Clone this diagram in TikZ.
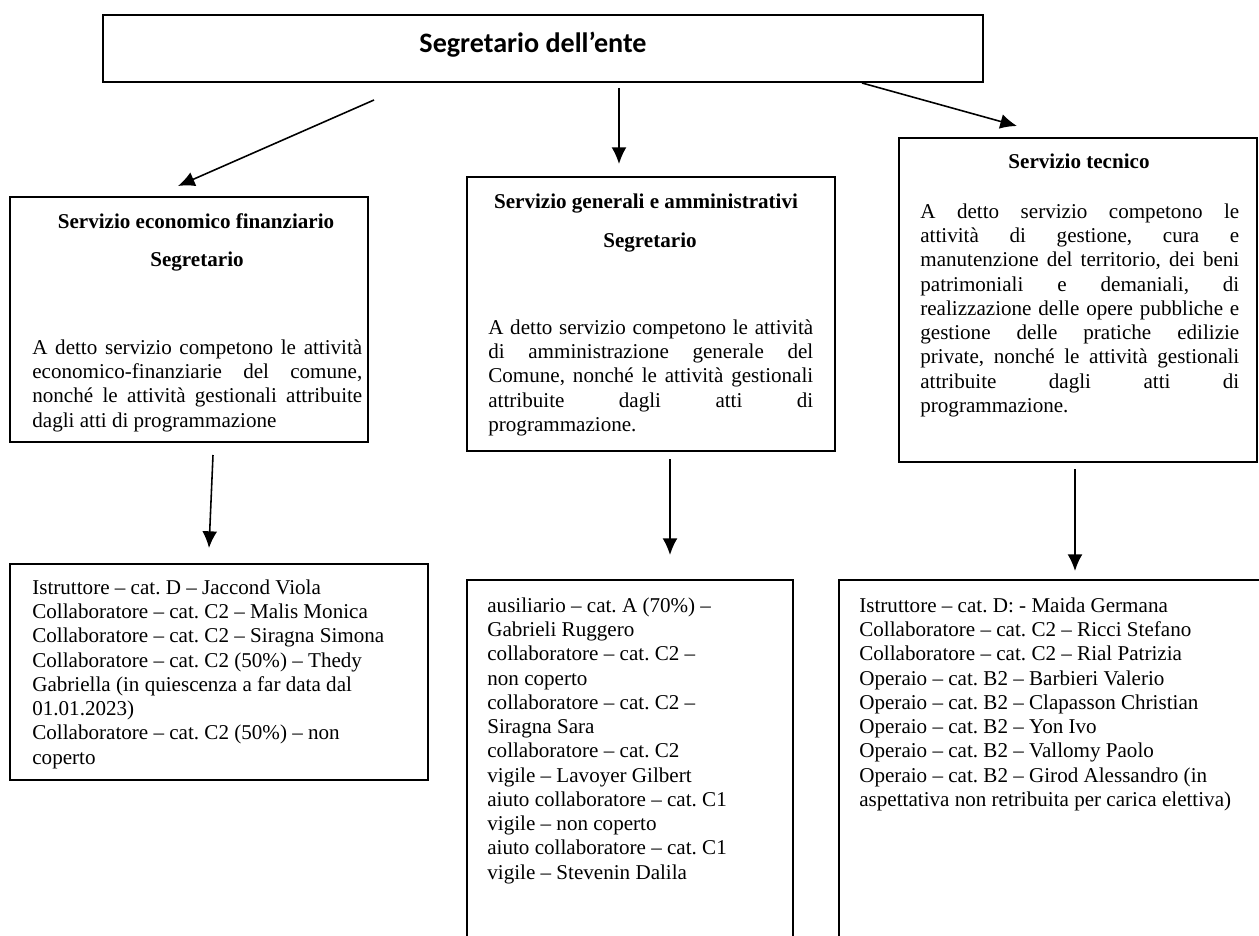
\documentclass[tikz,border=0pt]{standalone}
\usepackage{fontspec}
\setmainfont{Liberation Serif}
\newfontfamily\titlefont{Carlito}
\usetikzlibrary{arrows.meta,fit}
\frenchspacing

\begin{document}
\begin{tikzpicture}[x=0.02cm, y=-0.02cm, >={Latex[length=9.5pt,width=8.5pt]}, font=\fontsize{12}{13.8}\selectfont\frenchspacing]

% Styles for the boxes and their texts
\tikzstyle{box} = [draw, line width=1pt, rectangle, inner sep=0pt]
\tikzstyle{par} = [anchor=north west, inner sep=0pt, align=justify]
\tikzstyle{list} = [anchor=north west, inner sep=0pt, align=left]
\tikzstyle{head} = [anchor=base, inner sep=0pt, font=\fontsize{12}{13.8}\selectfont\bfseries]
\tikzstyle{link} = [->, line width=0.9pt]

\useasboundingbox (0,0) rectangle (1259,936);
\clip (0,0) rectangle (1259,936);

% Top box
\node[box, fit={(103,15) (983,82)}] (ente) {};
\node[anchor=base, inner sep=0pt, font=\titlefont\fontsize{16}{20}\selectfont\bfseries] (enteT) at (533,53) {Segretario dell’ente};

% Service boxes
\node[box, fit={(10,197) (368,442)}] (econ) {};
\node[head] (econH) at (196,229) {Servizio economico finanziario};
\node[head] (econS) at (197,267) {Segretario};
\node[par, text width=6.6cm] (econT) at (32,337) {\strut A detto servizio competono le attività\linebreak economico-finanziarie del comune,\linebreak nonché le attività gestionali attribuite\linebreak dagli atti di programmazione};

\node[box, fit={(467,177) (835,451)}] (gen) {};
\node[head] (genH) at (646,209) {Servizio generali e amministrativi};
\node[head] (genS) at (650,248) {Segretario};
\node[par, text width=6.5cm] (genT) at (488,317) {\strut A detto servizio competono le attività\linebreak di amministrazione generale del\linebreak Comune, nonché le attività gestionali\linebreak attribuite dagli atti di\linebreak programmazione.};

\node[box, fit={(899,138) (1257,462)}] (tec) {};
\node[head] (tecH) at (1079,169) {Servizio tecnico};
\node[par, text width=6.38cm] (tecT) at (920,201) {\strut A detto servizio competono le\linebreak attività di gestione, cura e\linebreak manutenzione del territorio, dei beni\linebreak patrimoniali e demaniali, di\linebreak realizzazione delle opere pubbliche e\linebreak gestione delle pratiche edilizie\linebreak private, nonché le attività gestionali\linebreak attribuite dagli atti di\linebreak programmazione.};

% Staff boxes
\node[box, fit={(10,564) (428,780)}] (econP) {};
\node[list] (econL) at (32,577) {\strut Istruttore – cat. D – Jaccond Viola\\
Collaboratore – cat. C2 – Malis Monica\\
Collaboratore – cat. C2 – Siragna Simona\\
Collaboratore – cat. C2 (50\%) – Thedy\\
Gabriella (in quiescenza a far data dal\\
01.01.2023)\\
Collaboratore – cat. C2 (50\%) – non\\
coperto};

\node[box, fit={(467,580) (793,950)}] (genP) {};
\node[list] (genL) at (487,595) {\strut ausiliario – cat. A (70\%) –\\
Gabrieli Ruggero\\
collaboratore – cat. C2 –\\
non coperto\\
collaboratore – cat. C2 –\\
Siragna Sara\\
collaboratore – cat. C2\\
vigile – Lavoyer Gilbert\\
aiuto collaboratore – cat. C1\\
vigile – non coperto\\
aiuto collaboratore – cat. C1\\
vigile – Stevenin Dalila};

\node[box, fit={(839,580) (1275,950)}] (tecP) {};
\node[list] (tecL) at (859,595) {\strut Istruttore – cat. D: - Maida Germana\\
Collaboratore – cat. C2 – Ricci Stefano\\
Collaboratore – cat. C2 – Rial Patrizia\\
Operaio – cat. B2 – Barbieri Valerio\\
Operaio – cat. B2 – Clapasson Christian\\
Operaio – cat. B2 – Yon Ivo\\
Operaio – cat. B2 – Vallomy Paolo\\
Operaio – cat. B2 – Girod Alessandro (in\\
aspettativa non retribuita per carica elettiva)};

% Arrows (free floating between the boxes)
\coordinate (a1s) at (374,100); \coordinate (a1e) at (178,186);
\coordinate (a2s) at (619,88);  \coordinate (a2e) at (619,164);
\coordinate (a3s) at (862,83);  \coordinate (a3e) at (1017,126);
\coordinate (a4s) at (213,455); \coordinate (a4e) at (209,548);
\coordinate (a5s) at (670,459); \coordinate (a5e) at (670,555);
\coordinate (a6s) at (1075,469); \coordinate (a6e) at (1075,571);
\draw[link] (a1s) -- (a1e);
\draw[link] (a2s) -- (a2e);
\draw[link] (a3s) -- (a3e);
\draw[link] (a4s) -- (a4e);
\draw[link] (a5s) -- (a5e);
\draw[link] (a6s) -- (a6e);

\end{tikzpicture}
\end{document}
